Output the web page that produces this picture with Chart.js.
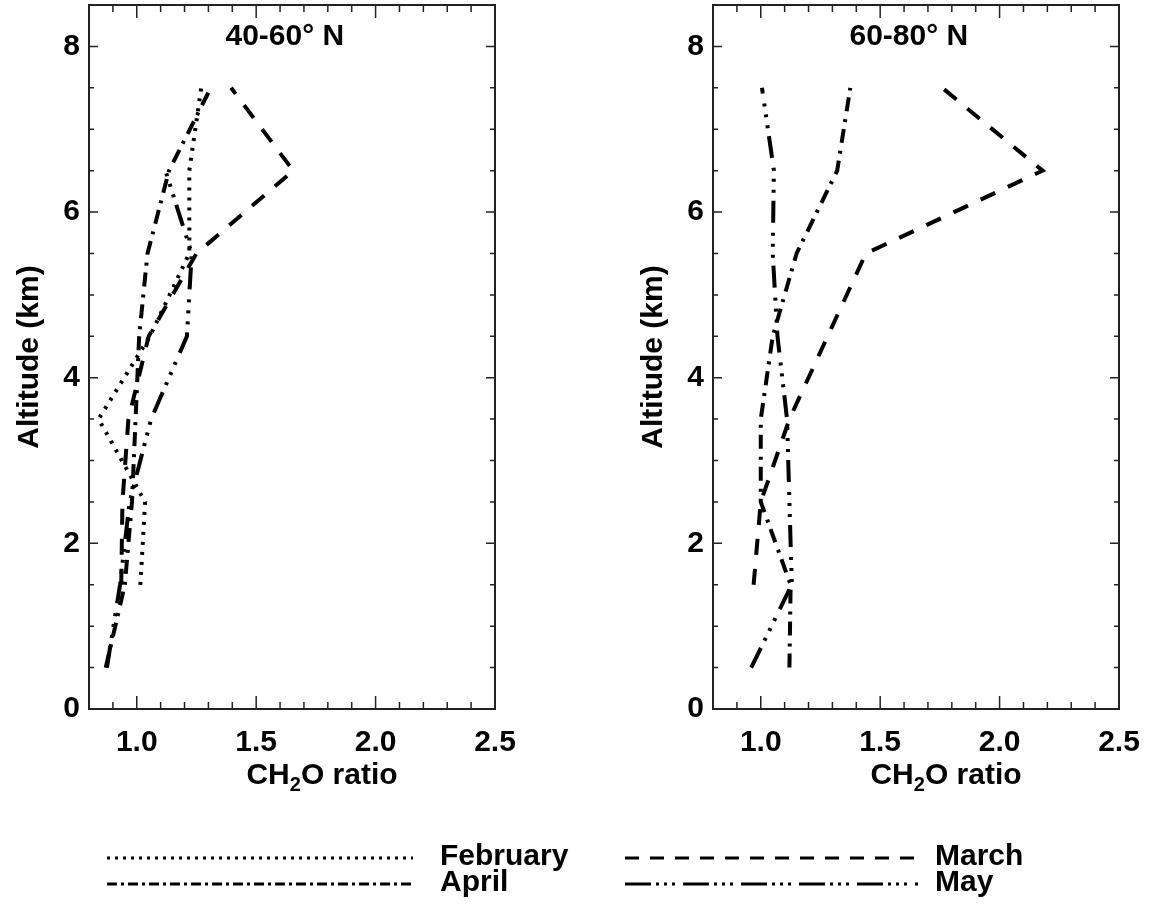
<!DOCTYPE html>
<html>
<head>
<meta charset="utf-8">
<script src="https://cdn.jsdelivr.net/npm/chart.js@4.4.0/dist/chart.umd.min.js"></script>
<style>
  body { margin: 0; background: #fff; }
  canvas { position: absolute; }
</style>
</head>
<body>
<canvas id="left" width="575" height="800" style="left:0;top:0"></canvas>
<canvas id="right" width="549" height="800" style="left:600px;top:0"></canvas>
<canvas id="key" width="1149" height="107" style="left:0;top:800px"></canvas>
<script>
// altitude levels (km)
const alts = [0.5, 1.5, 2.5, 3.5, 4.5, 5.5, 6.5, 7.5]

// 40-60 N profiles
const feb40 = [null, 1.015, 1.035, 0.84, 1.055, 1.22, 1.22, 1.27]
const mar40 = [null, 0.935, 0.94, 0.965, 1.05, 1.25, 1.655, 1.395]
const apr40 = [0.87, 0.95, 0.98, 0.995, 1.01, 1.045, 1.135, 1.31]
const may40 = [0.875, 0.93, 0.97, 1.06, 1.21, 1.23, 1.12, null]

// 60-80 N profiles
const mar60 = [null, 0.97, 1.0, 1.12, 1.28, 1.44, 2.18, 1.76]
const apr60 = [1.12, 1.125, 1.0, 1.0, 1.05, 1.15, 1.32, 1.375]
const may60 = [0.96, 1.13, 1.12, 1.11, 1.07, 1.05, 1.055, 1.005]

const xLabels = [1.0, 1.5, 2.0, 2.5]
const yLabels = [0, 2, 4, 6, 8]
const months = ['February', 'March', 'April', 'May']

// line styles
const DOT = [3, 7]
const DASH = [16, 14]
const DASHDOT = [14, 7, 3, 8]
const DASH3DOT = [22, 8, 3, 8, 3, 8, 3, 10]

const FONT = '"Liberation Sans", Arial, sans-serif'

function profile(vals, dash) {
  return {
    data: alts.map((a, i) => ({ x: vals[i], y: a })).filter(p => p.x !== null),
    showLine: true,
    borderColor: '#000',
    borderWidth: 4,
    borderDash: dash,
    pointRadius: 0,
    fill: false,
    tension: 0
  }
}

// box, inward ticks on all sides, panel title, axis titles
const frame = {
  id: 'frame',
  afterDraw(chart, args, opts) {
    const { ctx, chartArea: a, scales: { x, y } } = chart
    ctx.save()
    ctx.strokeStyle = '#222'
    ctx.lineWidth = 1.5
    ctx.beginPath()
    for (let i = 9; i < 25; i++) {
      const px = x.getPixelForValue(i / 10)
      const len = i % 5 === 0 ? 13 : 7
      ctx.moveTo(px, a.bottom); ctx.lineTo(px, a.bottom - len)
      ctx.moveTo(px, a.top); ctx.lineTo(px, a.top + len)
    }
    for (let i = 1; i < 17; i++) {
      const py = y.getPixelForValue(i / 2)
      const len = i % 4 === 0 ? 9 : 5
      ctx.moveTo(a.left, py); ctx.lineTo(a.left + len, py)
      ctx.moveTo(a.right, py); ctx.lineTo(a.right - len, py)
    }
    ctx.stroke()
    ctx.lineWidth = 2
    ctx.strokeRect(a.left, a.top, a.right - a.left, a.bottom - a.top)

    ctx.fillStyle = '#000'
    ctx.textBaseline = 'middle'
    ctx.textAlign = 'center'
    ctx.font = 'bold 30px ' + FONT
    ctx.fillText(opts.title, x.getPixelForValue(1.62), a.top + 32)

    // y title
    ctx.save()
    ctx.translate(a.left - 59, (a.top + a.bottom) / 2)
    ctx.rotate(-Math.PI / 2)
    ctx.fillText('Altitude (km)', 0, 0)
    ctx.restore()

    // x title with subscript
    ctx.textAlign = 'left'
    const big = 'bold 30px ' + FONT, small = 'bold 20px ' + FONT
    ctx.font = big
    const w1 = ctx.measureText('CH').width, w3 = ctx.measureText('O ratio').width
    ctx.font = small
    const w2 = ctx.measureText('2').width
    let tx = a.left + 233 - (w1 + w2 + w3) / 2
    const ty = a.bottom + 67
    ctx.font = big
    ctx.fillText('CH', tx, ty)
    tx += w1
    ctx.font = small
    ctx.fillText('2', tx, ty + 9)
    tx += w2
    ctx.font = big
    ctx.fillText('O ratio', tx, ty)
    ctx.restore()
  }
}

function makeChart(id, datasets, title, yWidth, rightPad) {
  const tickFont = { family: FONT, size: 30, weight: 'bold' }
  return new Chart(document.getElementById(id), {
    type: 'scatter',
    data: { datasets },
    options: {
      responsive: false,
      animation: false,
      devicePixelRatio: 1,
      layout: { padding: { top: 5, right: rightPad, left: 0, bottom: 0 } },
      plugins: { legend: { display: false }, tooltip: { enabled: false }, frame: { title } },
      scales: {
        x: {
          type: 'linear', min: 0.8, max: 2.5,
          grid: { display: false, drawTicks: false },
          border: { display: false },
          ticks: {
            stepSize: 0.1, autoSkip: false, maxRotation: 0, padding: 16,
            color: '#000', font: tickFont,
            callback: v => xLabels.some(l => Math.abs(l - v) < 1e-6) ? v.toFixed(1) : ''
          },
          afterFit: s => { s.height = 91; s.paddingLeft = 0; s.paddingRight = 0 }
        },
        y: {
          type: 'linear', min: 0, max: 8.5,
          grid: { display: false, drawTicks: false },
          border: { display: false },
          ticks: {
            stepSize: 2, autoSkip: false, padding: 9,
            color: '#000', font: tickFont,
            callback: v => yLabels.includes(v) ? String(v) : ''
          },
          afterFit: s => { s.width = yWidth; s.paddingTop = 0; s.paddingBottom = 0 }
        }
      }
    },
    plugins: [frame]
  })
}

makeChart('left', [
  profile(feb40, DOT),
  profile(mar40, DASH),
  profile(apr40, DASHDOT),
  profile(may40, DASH3DOT)
], '40-60\u00b0 N', 89, 80)

makeChart('right', [
  profile(mar60, DASH),
  profile(apr60, DASHDOT),
  profile(may60, DASH3DOT)
], '60-80\u00b0 N', 113, 30)

// legend
const key = document.getElementById('key').getContext('2d')
const keyItems = [
  { name: months[0], dash: [3, 5], x0: 107, x1: 413, tx: 440, y: 57 },
  { name: months[1], dash: [14, 11], x0: 625, x1: 918, tx: 935, y: 57 },
  { name: months[2], dash: [10, 4, 3, 4], x0: 107, x1: 413, tx: 440, y: 83 },
  { name: months[3], dash: [26, 5, 3, 5, 3, 5, 3, 8], x0: 625, x1: 918, tx: 935, y: 83 }
]
key.fillStyle = '#000'
key.strokeStyle = '#000'
key.lineWidth = 3
key.font = 'bold 30px ' + FONT
key.textBaseline = 'middle'
keyItems.forEach(k => {
  key.setLineDash(k.dash)
  key.beginPath()
  key.moveTo(k.x0, k.y + 1)
  key.lineTo(k.x1, k.y + 1)
  key.stroke()
  key.fillText(k.name, k.tx, k.y)
})
</script>
</body>
</html>
